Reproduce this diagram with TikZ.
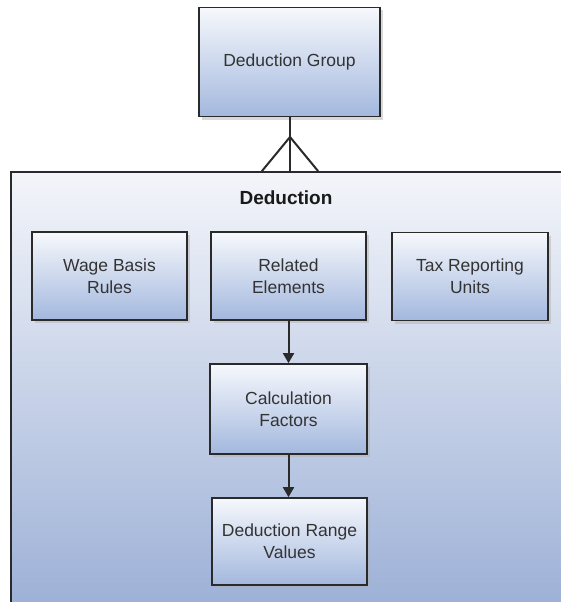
\documentclass[tikz,border=0pt]{standalone}
\usepackage{fontspec}
\setmainfont{Liberation Sans}
\usetikzlibrary{arrows.meta,shadows}

\definecolor{boxtop}{HTML}{F6F8FC}
\definecolor{boxbottom}{HTML}{A3B8DE}
\definecolor{outertop}{HTML}{F3F5FA}
\definecolor{outerbottom}{HTML}{9CB0D6}
\definecolor{edgegray}{HTML}{2A2A2A}
\definecolor{textgray}{HTML}{333333}

\begin{document}
\begin{tikzpicture}[x=1pt,y=-1pt]
\tikzset{
  entitybox/.style={rectangle,draw=edgegray,line width=1.7pt,top color=boxtop,bottom color=boxbottom,
    minimum width=155pt,minimum height=88pt,align=center,inner sep=2pt,text=textgray,
    font=\fontsize{17.5}{22}\selectfont,
    drop shadow={shadow xshift=3pt,shadow yshift=-3pt,fill=black!30,opacity=0.5}},
  containerbox/.style={rectangle,draw=edgegray,line width=1.8pt,top color=outertop,bottom color=outerbottom,
    anchor=north west,inner sep=0pt},
  linkedge/.style={draw=edgegray,line width=2pt,line cap=round,line join=round},
  directed/.style={linkedge,-{Triangle[length=10pt,width=11pt]}}
}
\useasboundingbox (0,0) rectangle (561,602);
\node[containerbox,minimum width=580pt,minimum height=438pt] (n_deduction) at (10,171) {};
\node[font=\fontsize{19}{22}\selectfont\bfseries,text=black!90] (n_title) at (286,198) {Deduction};
\node[entitybox,minimum width=181pt,minimum height=109pt] (n_group) at (289.5,62) {Deduction Group};
\node[entitybox] (n_wage) at (109.5,276) {Wage Basis\\Rules};
\node[entitybox] (n_related) at (288.5,276) {Related\\Elements};
\node[entitybox,minimum width=156pt] (n_tax) at (470,276.5) {Tax Reporting\\Units};
\node[entitybox,minimum width=157pt,minimum height=90pt] (n_calc) at (288.5,409) {Calculation\\Factors};
\node[entitybox,minimum height=87pt] (n_range) at (289.5,541.5) {Deduction Range\\Values};
\coordinate (c_fork) at (290,137);
\coordinate (c_forkL) at (262,171);
\coordinate (c_forkR) at (318,171);
\draw[linkedge] (n_group.south) -- (n_group.south |- n_deduction.north);
\draw[linkedge] (c_fork) -- (c_forkL);
\draw[linkedge] (c_fork) -- (c_forkR);
\draw[directed] (n_related) -- (n_calc);
\draw[directed] (n_calc.south) -- (n_calc.south |- n_range.north);
\end{tikzpicture}
\end{document}
